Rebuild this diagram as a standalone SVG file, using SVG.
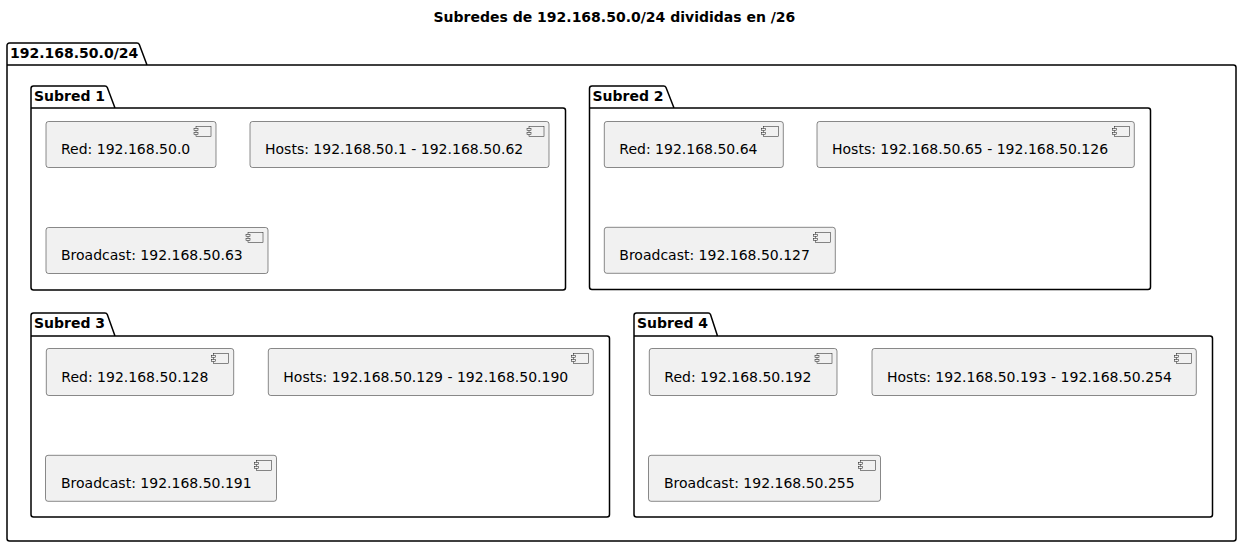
<svg xmlns="http://www.w3.org/2000/svg" xmlns:xlink="http://www.w3.org/1999/xlink" width="1242" height="547" viewBox="0 0 1242 547">
<style>
.pkg{fill:none;stroke:#000;stroke-width:1.5;stroke-linejoin:round}
.ptxt{font-family:"DejaVu Sans","Liberation Sans",sans-serif;font-weight:bold;font-size:14px;fill:#000}
.box{fill:#F1F1F1;stroke:#181818;stroke-width:0.5}
.txt{font-family:"DejaVu Sans","Liberation Sans",sans-serif;font-size:14px;fill:#000}
.ico rect{fill:#F1F1F1;stroke:#181818;stroke-width:0.5}
</style>
<defs>
<g id="icon" class="ico"><rect x="-20" y="5" width="15" height="10"/><rect x="-22" y="7" width="4" height="2"/><rect x="-22" y="11" width="4" height="2"/></g>
</defs>
<rect width="1242" height="547" fill="#fff"/>
<text class="ptxt" x="433.5" y="22.3">Subredes de 192.168.50.0/24 divididas en /26</text>

<g id="pkg-main">
<path class="pkg" d="M7,45.5 A2.5,2.5 0 0 1 9.5,43 L137,43 A2.5,2.5 0 0 1 139.3,44.5 L147,65 L1233.5,65 A2.5,2.5 0 0 1 1236,67.5 L1236,538.5 A2.5,2.5 0 0 1 1233.5,541 L9.5,541 A2.5,2.5 0 0 1 7,538.5 Z M7,65 L147,65"/>
<text class="ptxt" x="10" y="58">192.168.50.0/24</text>
</g>

<g id="pkg-s1">
<path class="pkg" d="M31,88.5 A2.5,2.5 0 0 1 33.5,86 L105,86 A2.5,2.5 0 0 1 107.3,87.5 L115,108 L563,108 A2.5,2.5 0 0 1 565.5,110.5 L565.5,287.5 A2.5,2.5 0 0 1 563,290 L33.5,290 A2.5,2.5 0 0 1 31,287.5 Z M31,108 L115,108"/>
<text class="ptxt" x="34" y="101">Subred 1</text>
</g>
<g id="s1-red"><rect class="box" x="46" y="121.5" width="170" height="46" rx="2.5"/><use xlink:href="#icon" x="216" y="121.5"/><text class="txt" x="61" y="154">Red: 192.168.50.0</text></g>
<g id="s1-hosts"><rect class="box" x="250" y="121.5" width="299" height="46" rx="2.5"/><use xlink:href="#icon" x="549" y="121.5"/><text class="txt" x="265" y="154">Hosts: 192.168.50.1 - 192.168.50.62</text></g>
<g id="s1-bcast"><rect class="box" x="46" y="227.5" width="222" height="46" rx="2.5"/><use xlink:href="#icon" x="268" y="227.5"/><text class="txt" x="61" y="260">Broadcast: 192.168.50.63</text></g>

<g id="pkg-s2">
<path class="pkg" d="M589.5,88.5 A2.5,2.5 0 0 1 592,86 L663.7,86 A2.5,2.5 0 0 1 666,87.5 L674,108 L1148,108 A2.5,2.5 0 0 1 1150.5,110.5 L1150.5,287 A2.5,2.5 0 0 1 1148,289.5 L592,289.5 A2.5,2.5 0 0 1 589.5,287 Z M589.5,108 L674,108"/>
<text class="ptxt" x="592.5" y="101">Subred 2</text>
</g>
<g id="s2-red"><rect class="box" x="604.3" y="121.5" width="179" height="46" rx="2.5"/><use xlink:href="#icon" x="783.3" y="121.5"/><text class="txt" x="619.3" y="154">Red: 192.168.50.64</text></g>
<g id="s2-hosts"><rect class="box" x="817" y="121.5" width="317.3" height="46" rx="2.5"/><use xlink:href="#icon" x="1134.3" y="121.5"/><text class="txt" x="832" y="154">Hosts: 192.168.50.65 - 192.168.50.126</text></g>
<g id="s2-bcast"><rect class="box" x="604.3" y="227.3" width="231" height="46" rx="2.5"/><use xlink:href="#icon" x="835.3" y="227.3"/><text class="txt" x="619.3" y="260">Broadcast: 192.168.50.127</text></g>

<g id="pkg-s3">
<path class="pkg" d="M31,315.5 A2.5,2.5 0 0 1 33.5,313 L105,313 A2.5,2.5 0 0 1 107.3,314.5 L115,336 L607,336 A2.5,2.5 0 0 1 609.5,338.5 L609.5,514.5 A2.5,2.5 0 0 1 607,517 L33.5,517 A2.5,2.5 0 0 1 31,514.5 Z M31,336 L115,336"/>
<text class="ptxt" x="34" y="328">Subred 3</text>
</g>
<g id="s3-red"><rect class="box" x="46.3" y="348.5" width="187.4" height="47" rx="2.5"/><use xlink:href="#icon" x="233.7" y="348.5"/><text class="txt" x="61.3" y="381.5">Red: 192.168.50.128</text></g>
<g id="s3-hosts"><rect class="box" x="268.3" y="348.5" width="325" height="47" rx="2.5"/><use xlink:href="#icon" x="593.3" y="348.5"/><text class="txt" x="283.3" y="381.5">Hosts: 192.168.50.129 - 192.168.50.190</text></g>
<g id="s3-bcast"><rect class="box" x="45.5" y="455.3" width="231" height="46" rx="2.5"/><use xlink:href="#icon" x="276.5" y="455.3"/><text class="txt" x="61" y="487.5">Broadcast: 192.168.50.191</text></g>

<g id="pkg-s4">
<path class="pkg" d="M634,315.5 A2.5,2.5 0 0 1 636.5,313 L708.2,313 A2.5,2.5 0 0 1 710.5,314.5 L717.5,336 L1210,336 A2.5,2.5 0 0 1 1212.5,338.5 L1212.5,514.5 A2.5,2.5 0 0 1 1210,517 L636.5,517 A2.5,2.5 0 0 1 634,514.5 Z M634,336 L717.5,336"/>
<text class="ptxt" x="637" y="328">Subred 4</text>
</g>
<g id="s4-red"><rect class="box" x="649.3" y="348.5" width="187.7" height="47" rx="2.5"/><use xlink:href="#icon" x="837" y="348.5"/><text class="txt" x="664.3" y="381.5">Red: 192.168.50.192</text></g>
<g id="s4-hosts"><rect class="box" x="872" y="348.5" width="324.3" height="47" rx="2.5"/><use xlink:href="#icon" x="1196.3" y="348.5"/><text class="txt" x="887" y="381.5">Hosts: 192.168.50.193 - 192.168.50.254</text></g>
<g id="s4-bcast"><rect class="box" x="648.5" y="455.3" width="232" height="46" rx="2.5"/><use xlink:href="#icon" x="880.5" y="455.3"/><text class="txt" x="664" y="487.5">Broadcast: 192.168.50.255</text></g>

<g id="connectors"></g>
</svg>
